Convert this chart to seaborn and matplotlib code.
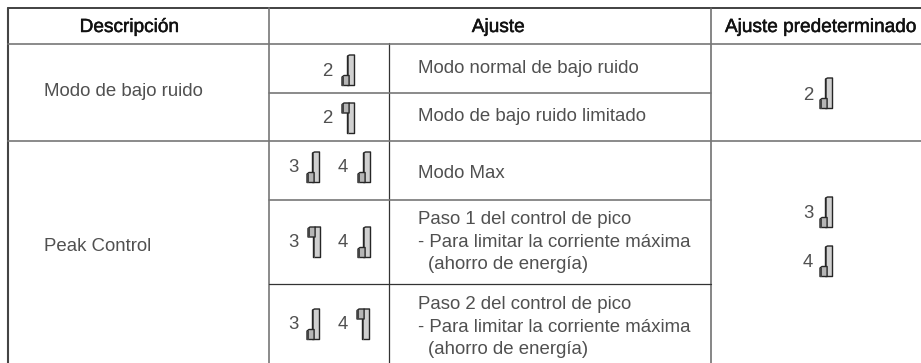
import matplotlib
matplotlib.use("Agg")
import matplotlib.pyplot as plt
import matplotlib.patheffects as pe
from matplotlib.patches import Polygon
import pandas as pd
import seaborn as sns

W, H = 921, 363

# content
headers = ["Descripción", "Ajuste", "Ajuste predeterminado"]
descriptions = ["Modo de bajo ruido", "Peak Control"]
settings = [
    ["Modo normal de bajo ruido"],
    ["Modo de bajo ruido limitado"],
    ["Modo Max"],
    ["Paso 1 del control de pico", "- Para limitar la corriente máxima", "  (ahorro de energía)"],
    ["Paso 2 del control de pico", "- Para limitar la corriente máxima", "  (ahorro de energía)"],
]
switch_numbers = ["2", "2", "3", "4", "3", "4", "3", "4"]
switch_states = ["up", "down", "up", "up", "down", "up", "up", "down"]
default_numbers = ["2", "3", "4"]
default_states = ["up", "up", "up"]

# layout (pixel coordinates)
switch_x = [342, 342, 307, 358, 308, 358, 307, 357]
switch_y = [55, 103, 152, 152, 227, 227, 309, 309]
number_x = [327, 327, 293, 343, 293, 343, 293, 343]
number_y = [71, 118, 167, 167, 242, 242, 324, 324]
default_x = [820, 820, 820]
default_y = [78, 197, 246]
default_num_y = [95, 213, 262]

rules = pd.DataFrame(
    [
        ("top", 8, 8, 921, 8, "#333333", 1.3),
        ("left", 8, 8, 8, 363, "#444444", 1.5),
        ("v1", 269, 8, 269, 363, "#777777", 1.2),
        ("v2", 389, 43, 389, 363, "#333333", 0.9),
        ("v3", 711, 8, 711, 363, "#666666", 1.1),
        ("h1", 8, 43.5, 921, 43.5, "#777777", 1.2),
        ("h2", 269, 93, 711, 93, "#777777", 1.2),
        ("h3", 8, 140.5, 921, 140.5, "#777777", 1.2),
        ("h4", 269, 200, 711, 200, "#777777", 1.2),
        ("h5", 269, 284, 711, 284, "#333333", 0.9),
    ],
    columns=["id", "x0", "y0", "x1", "y1", "color", "lw"],
)

sns.set_theme(style="white")
plt.rcParams["font.family"] = ["Liberation Sans", "DejaVu Sans"]

fig = plt.figure(figsize=(W / 100, H / 100), dpi=100, facecolor="white")
ax = fig.add_axes([0, 0, 1, 1])

for r in rules.itertuples():
    seg = pd.DataFrame({"x": [r.x0, r.x1], "y": [r.y0, r.y1]})
    sns.lineplot(data=seg, x="x", y="y", ax=ax, color=r.color, linewidth=r.lw,
                 estimator=None, sort=False, legend=False)

ax.set_xlim(0, W)
ax.set_ylim(H, 0)
ax.axis("off")

BODY = "#505050"
FS = 13.4
HFS = 13.7
DY = 1.5


def draw_switch(x, y, state):
    """x = left of foot, y = top of the switch."""
    h, fh = 30.5, 10
    tx0, tx1 = x + 5.5, x + 12.5
    edge = dict(edgecolor="#262626", linewidth=1.0, joinstyle="round")
    ax.add_patch(Polygon([(tx0, y + 1), (tx0 + 2, y), (tx1, y), (tx1, y + h), (tx0, y + h)],
                         closed=True, facecolor="#d0d0d0", **edge))
    ax.add_patch(Polygon([(tx0, y + 1), (tx0 + 1.6, y + 1), (tx0 + 1.6, y + h), (tx0, y + h)],
                         closed=True, facecolor="#555555", edgecolor="none"))
    fy = y + h - fh if state == "up" else y
    ax.add_patch(Polygon([(x, fy + 1.5), (x + 2, fy), (tx0 + 1.6, fy), (tx0 + 1.6, fy + fh), (x, fy + fh)],
                         closed=True, facecolor="#b5b5b5", **edge))
    ax.add_patch(Polygon([(x, fy + 1), (x + 2, fy + 1), (x + 2, fy + fh), (x, fy + fh)],
                         closed=True, facecolor="#444444", edgecolor="none"))


for label, cx in zip(headers, [129, 498, 820]):
    t = ax.text(cx, 26 + DY, label, ha="center", va="center", fontsize=HFS, color="#111111")
    t.set_path_effects([pe.withStroke(linewidth=0.35, foreground="#111111")])

for label, cy in zip(descriptions, [90, 245]):
    ax.text(44, cy + DY, label, ha="left", va="center", fontsize=FS, color=BODY)

setting_y = [[67], [115], [172], [218, 241, 263], [303, 326, 348]]
for lines, ys in zip(settings, setting_y):
    for line, cy in zip(lines, ys):
        lx = 428 if line.startswith("  ") else 418
        ax.text(lx, cy + DY, line.strip(), ha="left", va="center", fontsize=FS, color=BODY)

for num, st, sx, sy, nx, ny in zip(switch_numbers, switch_states, switch_x, switch_y, number_x, number_y):
    ax.text(nx, ny + 0.5, num, ha="center", va="center", fontsize=FS, color=BODY)
    draw_switch(sx, sy, st)

for num, st, sx, sy, ny in zip(default_numbers, default_states, default_x, default_y, default_num_y):
    ax.text(808, ny + 0.5, num, ha="center", va="center", fontsize=FS, color=BODY)
    draw_switch(sx, sy, st)

fig.savefig("out.png", dpi=100, facecolor="white")
